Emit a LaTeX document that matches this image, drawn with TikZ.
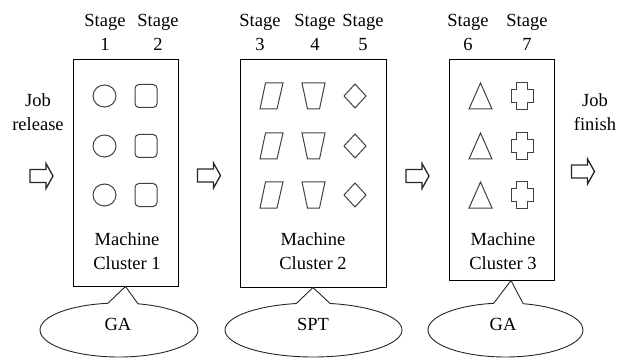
\documentclass[tikz,border=0pt]{standalone}
\usepackage{fontspec}
\setmainfont{Liberation Serif}
\usetikzlibrary{shapes.geometric,shapes.callouts}
\begin{document}
\begin{tikzpicture}[x=1pt,y=-1pt,
  every node/.style={font=\fontsize{18.5}{24}\selectfont, inner sep=0pt},
  txt/.style={align=center},
  clusterbox/.style={draw, line width=1pt},
  stagemark/.style={draw=black!75, line width=1pt},
  arrowline/.style={draw=black!85, line width=1.3pt, line join=miter},
  algo/.style={ellipse callout, draw=black!85, line width=0.9pt,
    callout pointer arc=22, minimum height=54pt},
  blockarrow/.pic={\draw[arrowline] (-11.5,-6.5) -- (4.5,-6.5) -- (4.5,-12.5) -- (11.5,0) -- (4.5,12.5) -- (4.5,6.5) -- (-11.5,6.5) -- cycle;},
  circ/.pic={\draw[stagemark] (0,0) ellipse [x radius=11.5pt, y radius=11pt];},
  rsq/.pic={\draw[stagemark, rounded corners=4pt] (-11,-11.5) rectangle (11,11.5);},
  para/.pic={\draw[stagemark] (-6,-13) -- (11.5,-13) -- (5.5,13) -- (-11.5,13) -- cycle;},
  trap/.pic={\draw[stagemark] (-11.5,-13) -- (11.5,-13) -- (6,13) -- (-6,13) -- cycle;},
  diam/.pic={\draw[stagemark] (0,-12) -- (11,0) -- (0,12) -- (-11,0) -- cycle;},
  tri/.pic={\draw[stagemark] (0,-13) -- (11.5,13) -- (-11.5,13) -- cycle;},
  plusmark/.pic={\draw[stagemark] (-5.5,-13.5) -- (5.5,-13.5) -- (5.5,-6.5) -- (11,-6.5) -- (11,6.5) -- (5.5,6.5) -- (5.5,13.5) -- (-5.5,13.5) -- (-5.5,6.5) -- (-11,6.5) -- (-11,-6.5) -- (-5.5,-6.5) -- cycle;}
]
\useasboundingbox (0,0) rectangle (618,358);

% clusters
\node[clusterbox, minimum width=105pt, minimum height=226pt] (c1) at (125.5,173) {};
\node[clusterbox, minimum width=146pt, minimum height=227pt] (c2) at (313,173.5) {};
\node[clusterbox, minimum width=105pt, minimum height=220pt] (c3) at (501.5,170) {};

% stage labels
\node[txt] (s1) at (105,32) {Stage\\1};
\node[txt] (s2) at (158,32) {Stage\\2};
\node[txt] (s3) at (260,32) {Stage\\3};
\node[txt] (s4) at (315,32) {Stage\\4};
\node[txt] (s5) at (363,32) {Stage\\5};
\node[txt] (s6) at (468,32) {Stage\\6};
\node[txt] (s7) at (527,32) {Stage\\7};

% machines
\foreach \yy in {96,146,195} {
  \pic at (104.5,\yy) {circ};
  \pic at (146,\yy) {rsq};
  \pic at (271.5,\yy) {para};
  \pic at (313.5,\yy) {trap};
  \pic at (355,\yy) {diam};
  \pic at (480.5,\yy) {tri};
  \pic at (522,\yy) {plusmark};
}

% cluster names
\node[txt] (m1) at (127,251) {Machine\\Cluster 1};
\node[txt] (m2) at (313,251) {Machine\\Cluster 2};
\node[txt] (m3) at (503,251) {Machine\\Cluster 3};

% job texts
\node[txt] (jr) at (38,112) {Job\\release};
\node[txt] (jf) at (595,112) {Job\\finish};

% block arrows
\pic at (41.5,176) {blockarrow};
\pic at (209,175.5) {blockarrow};
\pic at (417.5,176) {blockarrow};
\pic at (583,171.5) {blockarrow};

% algorithm callouts
\coordinate (p3) at ([xshift=9.5pt]c3.south);
\node[algo, minimum width=158pt, callout absolute pointer={(c1.south)}] (e1) at (119,330) {};
\node[algo, minimum width=177pt, callout absolute pointer={(c2.south)}] (e2) at (313.5,330) {};
\node[algo, minimum width=155pt, callout absolute pointer={(p3)}] (e3) at (505.5,330) {};
\node (g1) at (118,324) {GA};
\node (g2) at (313,324) {SPT};
\node (g3) at (503,324) {GA};
\end{tikzpicture}
\end{document}
